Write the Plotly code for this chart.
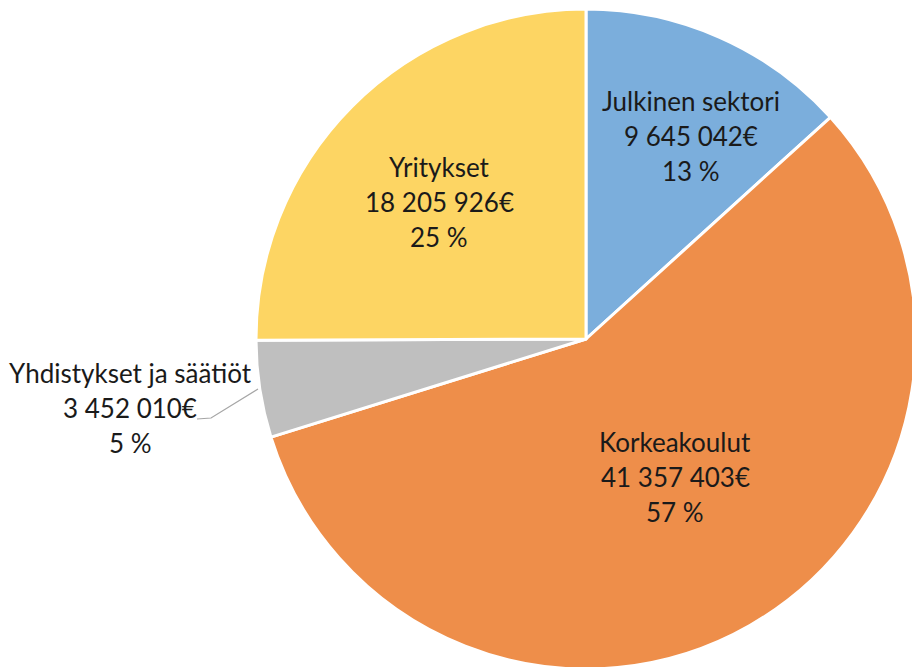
import plotly.graph_objects as go

categories = ["Julkinen sektori", "Korkeakoulut", "Yhdistykset ja säätiöt", "Yritykset"]
values = [9645042, 41357403, 3452010, 18205926]
colors = ["#7BAEDC", "#EE8E4A", "#BFBFBF", "#FDD563"]

# figure slightly larger than the 912x667 window; the pie is clipped at right/bottom
W, H = 920, 672
total = sum(values)

fig = go.Figure(go.Pie(
    labels=categories,
    values=values,
    sort=False,
    direction="clockwise",
    rotation=0,
    marker=dict(colors=colors, line=dict(color="white", width=3)),
    textinfo="none",
    hoverinfo="label+value+percent",
    showlegend=False,
    domain=dict(x=[256 / W, 916 / W], y=[1 - 669 / H, 1 - 9 / H]),
))

# label centres in pixels (x, first line y)
label_pos = [(691, 101), (675, 442), (130, 373), (439, 166.5)]
line_gap = 35
font = dict(family="Lato, Open Sans, sans-serif", size=26, color="#1a1a1a")
annotations = []
for name, v, (px, py) in zip(categories, values, label_pos):
    lines = [name, f"{v:,}".replace(",", " ") + "€", f"{round(v / total * 100)} %"]
    for i, t in enumerate(lines):
        annotations.append(dict(
            x=px / W, y=1 - (py + i * line_gap) / H, xref="paper", yref="paper",
            text=t, showarrow=False, font=font, xanchor="center", yanchor="middle",
        ))

fig.update_layout(
    width=W, height=H,
    margin=dict(l=0, r=0, t=0, b=0),
    paper_bgcolor="white",
    plot_bgcolor="white",
    annotations=annotations,
    shapes=[dict(
        type="path", xref="paper", yref="paper",
        path=f"M {197 / W} {1 - 419 / H} L {211 / W} {1 - 418 / H} L {258 / W} {1 - 389 / H}",
        line=dict(color="#A6A6A6", width=1.2),
    )],
)

fig.write_html(
    "out.html",
    config={"displayModeBar": False},
    post_script="document.body.style.margin='0';document.body.style.overflow='hidden';",
)
